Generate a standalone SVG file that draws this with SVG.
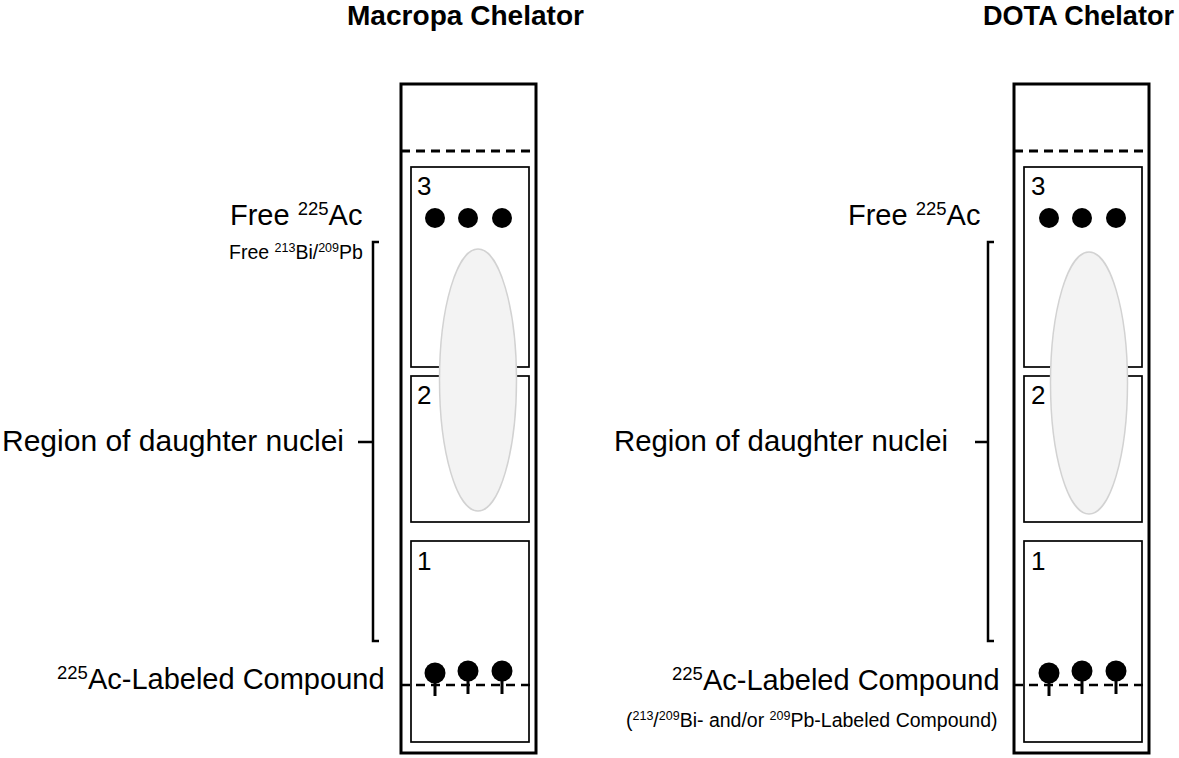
<svg xmlns="http://www.w3.org/2000/svg" width="1179" height="758" viewBox="0 0 1179 758">
<style>
  text { font-family: "Liberation Sans", Arial, sans-serif; fill: #000; }
  .title { font-weight: bold; font-size: 28px; }
  .lbl { font-size: 29px; }
  .small { font-size: 19.5px; }
  .num { font-size: 26px; }
  .outer { fill: none; stroke: #000; stroke-width: 3; }
  .box { fill: none; stroke: #000; stroke-width: 1.7; }
  .dash { stroke: #000; stroke-width: 3; stroke-dasharray: 9 6; fill: none; }
  .dash2 { stroke: #000; stroke-width: 2.5; stroke-dasharray: 9 6; fill: none; }
  .spot { fill: #f3f3f3; stroke: #d2d2d2; stroke-width: 1.5; }
  .stem { stroke: #000; stroke-width: 3; }
  .br { fill: none; stroke: #000; stroke-width: 2.5; }
</style>
<defs>
  <g id="pin">
    <line class="stem" x1="0" y1="0" x2="0" y2="23"/>
    <circle cx="0" cy="0" r="10.5" fill="#000"/>
  </g>
</defs>

<g id="titles">
  <text class="title" x="347" y="25" textLength="237" lengthAdjust="spacingAndGlyphs">Macropa Chelator</text>
  <text class="title" x="983" y="25" textLength="191" lengthAdjust="spacingAndGlyphs">DOTA Chelator</text>
</g>

<g id="column-macropa">
  <rect class="outer" x="401" y="84" width="135" height="669"/>
  <line class="dash" x1="401" y1="151" x2="536" y2="151"/>
  <rect class="box" x="411" y="167" width="118" height="200"/>
  <rect class="box" x="411" y="376" width="118" height="146"/>
  <rect class="box" x="411" y="541" width="118" height="201"/>
  <text class="num" x="417" y="195">3</text>
  <text class="num" x="417" y="404">2</text>
  <text class="num" x="417" y="570">1</text>
  <circle cx="435" cy="218" r="10" fill="#000"/>
  <circle cx="468" cy="218" r="10" fill="#000"/>
  <circle cx="502" cy="218" r="10" fill="#000"/>
  <ellipse class="spot" cx="478" cy="380" rx="38.5" ry="131"/>
  <line class="dash2" x1="401" y1="685" x2="536" y2="685"/>
  <use href="#pin" x="435" y="673"/>
  <use href="#pin" x="468" y="671"/>
  <use href="#pin" x="502" y="671"/>
</g>

<g id="column-dota">
  <rect class="outer" x="1014" y="84" width="135" height="669"/>
  <line class="dash" x1="1014" y1="151" x2="1149" y2="151"/>
  <rect class="box" x="1024" y="167" width="118" height="200"/>
  <rect class="box" x="1024" y="376" width="118" height="146"/>
  <rect class="box" x="1024" y="541" width="118" height="201"/>
  <text class="num" x="1031" y="195">3</text>
  <text class="num" x="1031" y="404">2</text>
  <text class="num" x="1031" y="570">1</text>
  <circle cx="1049" cy="218" r="10" fill="#000"/>
  <circle cx="1082" cy="218" r="10" fill="#000"/>
  <circle cx="1116" cy="218" r="10" fill="#000"/>
  <ellipse class="spot" cx="1089" cy="383" rx="38.5" ry="131"/>
  <line class="dash2" x1="1014" y1="685" x2="1149" y2="685"/>
  <use href="#pin" x="1049" y="673"/>
  <use href="#pin" x="1082" y="671"/>
  <use href="#pin" x="1116" y="671"/>
</g>

<g id="labels-macropa">
  <text class="lbl" x="230" y="225">Free <tspan font-size="18.5" dy="-10">225</tspan><tspan dy="10">Ac</tspan></text>
  <text class="small" x="229" y="259">Free <tspan font-size="12.5" dy="-7">213</tspan><tspan dy="7">Bi/</tspan><tspan font-size="12.5" dy="-7">209</tspan><tspan dy="7">Pb</tspan></text>
  <text class="lbl" x="2" y="451" textLength="342" lengthAdjust="spacingAndGlyphs">Region of daughter nuclei</text>
  <text class="lbl" x="57" y="689"><tspan font-size="18.5" dy="-10">225</tspan><tspan dy="10">Ac-Labeled Compound</tspan></text>
  <path class="br" d="M379,242 H373 V641 H379 M358,442 H373"/>
</g>

<g id="labels-dota">
  <text class="lbl" x="848" y="225">Free <tspan font-size="18.5" dy="-10">225</tspan><tspan dy="10">Ac</tspan></text>
  <text class="lbl" x="614" y="451" textLength="334" lengthAdjust="spacingAndGlyphs">Region of daughter nuclei</text>
  <text class="lbl" x="672" y="690"><tspan font-size="18.5" dy="-10">225</tspan><tspan dy="10">Ac-Labeled Compound</tspan></text>
  <text class="small" x="626" y="727">(<tspan font-size="12.5" dy="-7">213</tspan><tspan dy="7">/</tspan><tspan font-size="12.5" dy="-7">209</tspan><tspan dy="7">Bi- and/or </tspan><tspan font-size="12.5" dy="-7">209</tspan><tspan dy="7">Pb-Labeled Compound)</tspan></text>
  <path class="br" d="M994,242 H988 V641 H994 M975,442 H988"/>
</g>
</svg>
